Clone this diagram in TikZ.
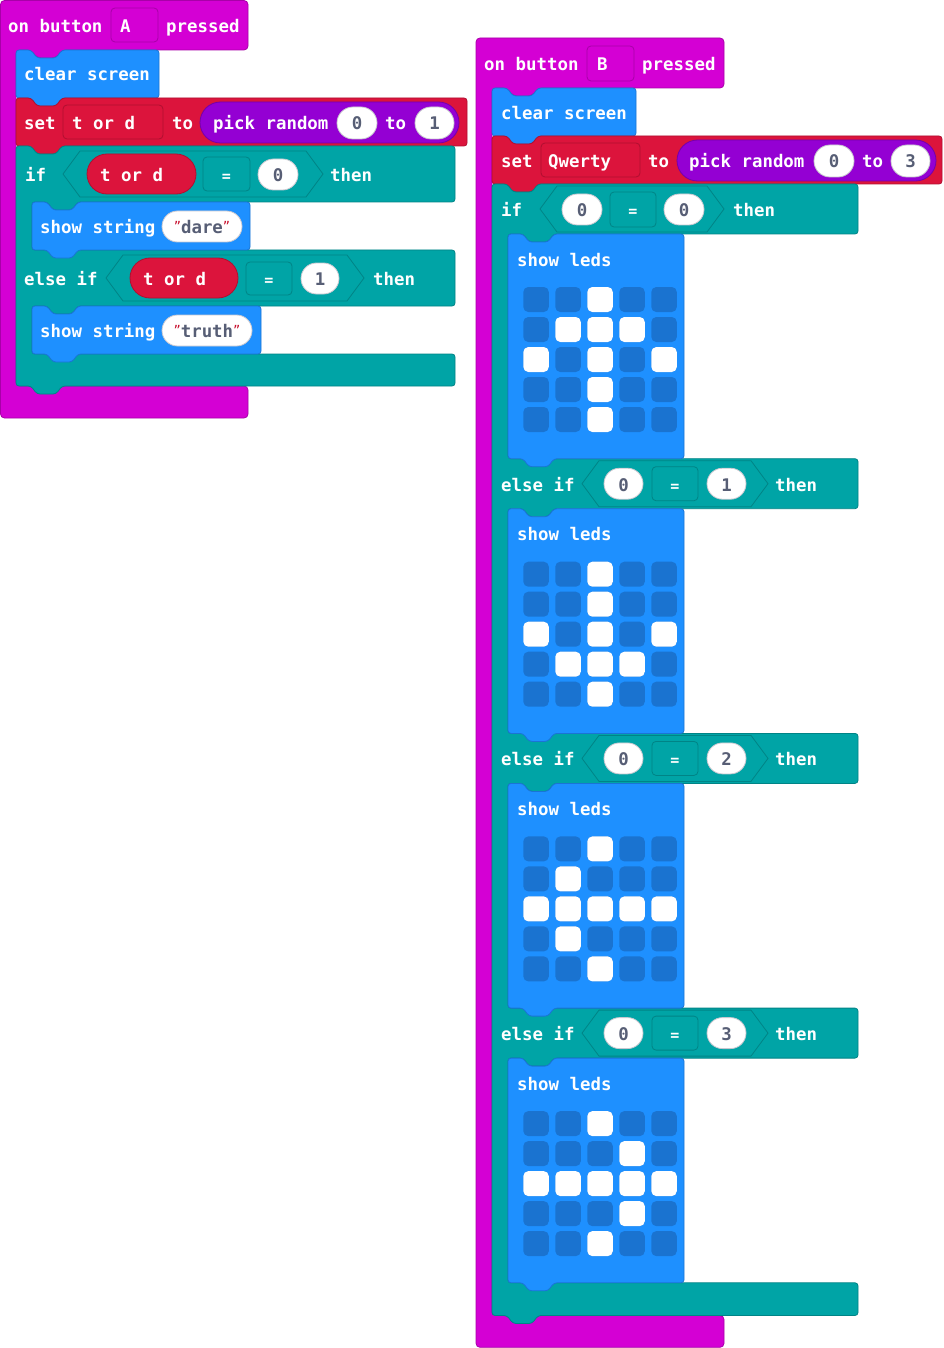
\documentclass[tikz,border=0pt]{standalone}
\usepackage{fontspec}
\setmainfont{DejaVu Sans Mono}
\definecolor{mag}{HTML}{D400D4}
\definecolor{magd}{HTML}{A800A8}
\definecolor{blu}{HTML}{1E90FF}
\definecolor{blud}{HTML}{1A74D4}
\definecolor{rd}{HTML}{DC143C}
\definecolor{rdd}{HTML}{B00F30}
\definecolor{pur}{HTML}{9400D3}
\definecolor{purd}{HTML}{7500A8}
\definecolor{tl}{HTML}{00A4A6}
\definecolor{tld}{HTML}{008486}
\definecolor{ledoff}{HTML}{1A73D0}
\definecolor{txg}{HTML}{575E75}
\definecolor{qred}{HTML}{C8102E}
\definecolor{ovd}{HTML}{C8C8D0}
\tikzset{
 lbl/.style={anchor=base west, inner sep=0pt, text=white, font=\fontsize{17.4}{20}\selectfont\bfseries},
 num/.style={anchor=base, inner sep=0pt, text=txg, font=\fontsize{17.4}{20}\selectfont\bfseries},
 eqs/.style={anchor=base, inner sep=0pt, text=white, font=\fontsize{15}{18}\selectfont\bfseries},
 edgeline/.style={line width=0.8pt},
}
\newcommand\q{\textcolor{qred}{\raisebox{3pt}{\fontsize{12}{12}\selectfont\mdseries\char34}}}
% statement block with top notch and bottom tab: x y w h fill stroke
\newcommand\stmt[6]{\path[fill=#5, draw=#6, edgeline, rounded corners=3pt] (#1,#2) -- ({#1+15},#2) -- ({#1+21},{#2+8}) -- ({#1+40},{#2+8}) -- ({#1+46},#2) -- ({#1+#3},#2) -- ({#1+#3},{#2+#4}) -- ({#1+46},{#2+#4}) -- ({#1+40},{#2+#4+8}) -- ({#1+21},{#2+#4+8}) -- ({#1+15},{#2+#4}) -- (#1,{#2+#4}) -- cycle;}
% rounded box: x1 y1 x2 y2 fill stroke radius
\newcommand\rbox[7]{\path[fill=#5, draw=#6, edgeline, rounded corners=#7] (#1,#2) rectangle (#3,#4);}
% hexagon: x1 x2 centre-y
\newcommand\hexa[3]{\path[fill=tl, draw=tld, edgeline] (#1,#3) -- ({#1+17},{#3-23}) -- ({#2-17},{#3-23}) -- (#2,#3) -- ({#2-17},{#3+23}) -- ({#1+17},{#3+23}) -- cycle;}
% led grid: top of block, list of lit cells c/r
\newcommand\leds[2]{%
 \foreach \r in {0,...,4}{\foreach \c in {0,...,4}{%
  \fill[ledoff, rounded corners=5pt] ({523.3+32*\c},{#1+53+30*\r}) rectangle ++(25.5,25);}}%
 \foreach \c/\r in {#2}{\fill[white, rounded corners=5pt] ({523.3+32*\c},{#1+53+30*\r}) rectangle ++(25.5,25);}}
\begin{document}
\begin{tikzpicture}[x=1pt,y=-1pt]
\useasboundingbox (0,0) rectangle (943,1348);
\fill[white] (0,0) rectangle (943,1348);
%================ LEFT PROGRAM =================
\path[fill=mag, draw=magd, edgeline, rounded corners=4pt] (0.5,0.5) -- (248,0.5) -- (248,50) -- (62,50) -- (56,58) -- (37,58) -- (31,50) -- (16,50) -- (16,386) -- (248,386) -- (248,418) -- (0.5,418) -- cycle;
\rbox{111}{8}{158}{42}{mag}{magd}{4pt}
\stmt{16}{50}{143}{48}{blu}{blud}
\stmt{16}{98}{451}{48}{rd}{rdd}
\rbox{63}{105}{163}{139}{rd}{rdd}{4pt}
\rbox{200}{102}{459}{143}{pur}{purd}{20.5pt}
\rbox{337}{107}{377}{139}{white}{ovd}{16pt}
\rbox{415}{107}{454}{139}{white}{ovd}{16pt}
% teal if / else if
\path[fill=tl, draw=tld, edgeline, rounded corners=3pt] (16,146) -- (31,146) -- (37,154) -- (56,154) -- (62,146) -- (455,146) -- (455,202) -- (78,202) -- (72,210) -- (53,210) -- (47,202) -- (32,202) -- (32,250) -- (455,250) -- (455,306) -- (78,306) -- (72,314) -- (53,314) -- (47,306) -- (32,306) -- (32,354) -- (455,354) -- (455,386) -- (62,386) -- (56,394) -- (37,394) -- (31,386) -- (16,386) -- cycle;
\hexa{63}{323}{174}
\rbox{87}{154}{196}{194}{rd}{rdd}{20pt}
\rbox{203}{157}{250}{191}{tl}{tld}{4pt}
\rbox{258}{159}{298}{190}{white}{ovd}{15.5pt}
\stmt{32}{202}{218}{48}{blu}{blud}
\rbox{162}{211}{242}{242}{white}{ovd}{15.5pt}
\hexa{106}{364}{278}
\rbox{130}{258}{238}{298}{rd}{rdd}{20pt}
\rbox{246}{262}{292}{295}{tl}{tld}{4pt}
\rbox{301}{263}{339}{294}{white}{ovd}{15.5pt}
\stmt{32}{306}{229}{48}{blu}{blud}
\rbox{162}{315}{252}{346}{white}{ovd}{15.5pt}
% texts left
\node[lbl] (hA1) at (8,33) {on button};
\node[lbl] (hA2) at (120,33) {A};
\node[lbl] (hA3) at (166,33) {pressed};
\node[lbl] (clrA) at (24,81) {clear screen};
\node[lbl] (setA) at (24,129.5) {set};
\node[lbl] (varA) at (72,129.5) {t or d};
\node[lbl] (toA) at (172,129.5) {to};
\node[lbl] (prA) at (213,129.5) {pick random};
\node[num] (pA0) at (357,130) {0};
\node[lbl] (toA2) at (385,129.5) {to};
\node[num] (pA1) at (434.5,130) {1};
\node[lbl] (ifA) at (25,181.5) {if};
\node[lbl] (ifAv) at (100,181.5) {t or d};
\node[eqs] (ifAe) at (226.5,181.5) {=};
\node[num] (ifAn) at (278,181.5) {0};
\node[lbl] (ifAt) at (330,181.5) {then};
\node[lbl] (ssA1) at (40,233.5) {show string};
\node[num] (ssA1s) at (202,233.5) {\q dare\q};
\node[lbl] (eiA) at (24,285.5) {else if};
\node[lbl] (eiAv) at (143,285.5) {t or d};
\node[eqs] (eiAe) at (269,285.5) {=};
\node[num] (eiAn) at (320,285.5) {1};
\node[lbl] (eiAt) at (373,285.5) {then};
\node[lbl] (ssA2) at (40,337.5) {show string};
\node[num] (ssA2s) at (207,337.5) {\q truth\q};
%================ RIGHT PROGRAM =================
\path[fill=mag, draw=magd, edgeline, rounded corners=4pt] (476,38) -- (724,38) -- (724,88) -- (538,88) -- (532,96) -- (513,96) -- (507,88) -- (492,88) -- (492,1315.5) -- (724,1315.5) -- (724,1347.3) -- (476,1347.3) -- cycle;
\rbox{587}{46}{634}{81}{mag}{magd}{4pt}
\stmt{492}{88}{144}{48}{blu}{blud}
\stmt{492}{136}{450}{48}{rd}{rdd}
\rbox{541}{143}{640}{177}{rd}{rdd}{4pt}
\rbox{677}{140}{936}{181}{pur}{purd}{20.5pt}
\rbox{814}{145}{854}{177}{white}{ovd}{16pt}
\rbox{891}{145}{930}{177}{white}{ovd}{16pt}
\path[fill=tl, draw=tld, edgeline, rounded corners=3pt] (492,184) -- (507,184) -- (513,192) -- (532,192) -- (538,184) -- (858,184) -- (858,234) -- (554,234) -- (548,242) -- (529,242) -- (523,234) -- (508,234)
 -- (508,458.7) -- (858,458.7) -- (858,508.7) -- (554,508.7) -- (548,516.7) -- (529,516.7) -- (523,508.7) -- (508,508.7)
 -- (508,733.4) -- (858,733.4) -- (858,783.4) -- (554,783.4) -- (548,791.4) -- (529,791.4) -- (523,783.4) -- (508,783.4)
 -- (508,1008.1) -- (858,1008.1) -- (858,1058.1) -- (554,1058.1) -- (548,1066.1) -- (529,1066.1) -- (523,1058.1) -- (508,1058.1)
 -- (508,1282.8) -- (858,1282.8) -- (858,1315.5) -- (538,1315.5) -- (532,1323.5) -- (513,1323.5) -- (507,1315.5) -- (492,1315.5) -- cycle;
\hexa{540}{724}{209}
\rbox{562}{194}{602}{225}{white}{ovd}{15.5pt}
\rbox{610}{192}{656}{227}{tl}{tld}{4pt}
\rbox{664}{194}{704}{225}{white}{ovd}{15.5pt}
\foreach \H/\n in {458.7/1, 733.4/2, 1008.1/3}{%
 \hexa{582}{768}{\H+25}
 \rbox{604}{\H+9.5}{643}{\H+40.5}{white}{ovd}{15.5pt}
 \rbox{652}{\H+8}{698}{\H+42}{tl}{tld}{4pt}
 \rbox{707}{\H+9.5}{746}{\H+40.5}{white}{ovd}{15.5pt}
 \node[lbl] (eiB\n) at (501,\H+32.5) {else if};
 \node[num] (eiBa\n) at (623.5,\H+32.5) {0};
 \node[eqs] (eiBe\n) at (675,\H+32.5) {=};
 \node[num] (eiBn\n) at (726.5,\H+32.5) {\n};
 \node[lbl] (eiBt\n) at (775,\H+32.5) {then};
}
% show leds blocks
\foreach \T/\k in {234/1, 508.7/2, 783.4/3, 1058.1/4}{%
 \stmt{508}{\T}{176}{224.7}{blu}{blud}
 \node[lbl] (slB\k) at (517,\T+32) {show leds};
}
\leds{234}{2/0,1/1,2/1,3/1,0/2,2/2,4/2,2/3,2/4}
\leds{508.7}{2/0,2/1,0/2,2/2,4/2,1/3,2/3,3/3,2/4}
\leds{783.4}{2/0,1/1,0/2,1/2,2/2,3/2,4/2,1/3,2/4}
\leds{1058.1}{2/0,3/1,0/2,1/2,2/2,3/2,4/2,3/3,2/4}
% texts right
\node[lbl] (hB1) at (484,71) {on button};
\node[lbl] (hB2) at (597,71) {B};
\node[lbl] (hB3) at (642,71) {pressed};
\node[lbl] (clrB) at (501,119.5) {clear screen};
\node[lbl] (setB) at (501,167.5) {set};
\node[lbl] (varB) at (548,167.5) {Qwerty};
\node[lbl] (toB) at (648,167.5) {to};
\node[lbl] (prB) at (689,167.5) {pick random};
\node[num] (pB0) at (834,168) {0};
\node[lbl] (toB2) at (862,167.5) {to};
\node[num] (pB3) at (910.5,168) {3};
\node[lbl] (ifB) at (501,216.5) {if};
\node[num] (ifBa) at (582,216.5) {0};
\node[eqs] (ifBe) at (633,216.5) {=};
\node[num] (ifBb) at (684,216.5) {0};
\node[lbl] (ifBt) at (733,216.5) {then};
\end{tikzpicture}
\end{document}
